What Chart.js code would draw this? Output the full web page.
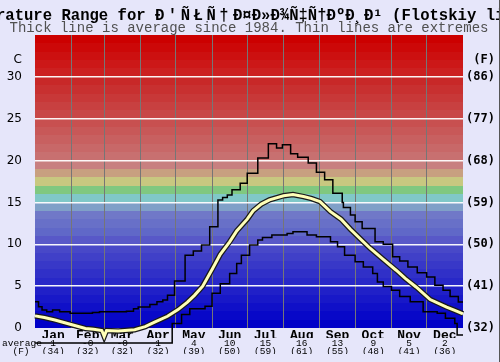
<!DOCTYPE html>
<html>
<head>
<meta charset="utf-8">
<script src="https://cdn.jsdelivr.net/npm/chart.js@4.4.1/dist/chart.umd.min.js"></script>
<style>
  html, body { margin: 0; padding: 0; background: #e6e6fa; }
</style>
</head>
<body>
<canvas id="chart" width="500" height="362"></canvas>
<script>
// day of year (0..365) and temperature in C
const avgDay = [0, 8, 17, 30, 43, 50, 57, 59, 61, 71, 85, 94, 102, 113, 122, 130, 136, 143, 151, 158, 166, 172, 181, 186, 193, 200, 212, 220, 229, 236, 243, 252, 261, 269, 280, 286, 297, 308, 316, 325, 337, 351, 358, 365];
const avgTemp = [1.45, 1.25, 0.96, 0.44, -0.05, -0.15, -0.3, -1.0, -0.3, -0.35, -0.2, 0.16, 0.7, 1.4, 2.2, 3.1, 3.9, 5.0, 7.0, 8.8, 10.3, 11.6, 13.0, 14.0, 14.8, 15.3, 15.8, 15.95, 15.7, 15.45, 15.1, 13.9, 13.0, 11.8, 10.3, 9.5, 8.2, 6.9, 5.9, 4.9, 3.4, 2.5, 2.1, 1.7];

const maxDay = [0, 3, 6, 10, 15, 21, 30, 49, 55, 78, 84, 88, 98, 104, 109, 113, 119, 128, 135, 142, 149, 156, 160, 164, 168, 175, 181, 190, 199, 206, 211, 218, 224, 233, 240, 247, 254, 262, 263, 269, 273, 279, 290, 297, 305, 311, 318, 326, 334, 341, 348, 354, 361, 365];
const maxTemp = [3.15, 2.55, 2.15, 1.95, 2.15, 1.95, 1.75, 1.85, 1.95, 2.0, 2.3, 2.5, 2.8, 3.15, 3.35, 3.9, 5.6, 8.7, 9.2, 9.9, 12.1, 15.3, 15.6, 15.9, 16.5, 17.3, 18.5, 20.3, 22.0, 21.5, 21.9, 20.8, 20.4, 19.7, 18.6, 17.7, 16.1, 15.0, 14.4, 13.5, 12.7, 11.9, 10.3, 10.0, 8.5, 8.0, 7.3, 6.6, 6.1, 5.1, 4.5, 3.75, 3.1, 3.1];

const minDay = [0, 115, 117, 125, 132, 145, 151, 158, 166, 172, 176, 183, 190, 194, 202, 215, 220, 232, 240, 252, 258, 264, 273, 280, 288, 292, 297, 304, 311, 320, 331, 343, 350, 358, 360, 365];
const minTemp = [-1.8, -1.8, 0.55, 1.6, 2.3, 2.6, 4.15, 5.3, 6.5, 7.7, 8.7, 9.9, 10.5, 10.8, 11.1, 11.3, 11.5, 11.1, 10.9, 10.3, 9.7, 8.7, 7.9, 7.3, 6.5, 5.5, 4.95, 4.5, 3.75, 3.15, 1.95, 1.75, 1.15, 0.55, -0.85, -0.85];

const months = ['Jan', 'Feb', 'Mar', 'Apr', 'May', 'Jun', 'Jul', 'Aug', 'Sep', 'Oct', 'Nov', 'Dec'];
const monthStart = [0, 31, 59, 90, 120, 151, 181, 212, 243, 273, 304, 334, 365];
const monthAvgC = ['1', '-0', '-0', '1', '4', '10', '15', '16', '13', '9', '5', '2'];
const monthAvgF = ['(34)', '(32)', '(32)', '(32)', '(39)', '(50)', '(59)', '(61)', '(55)', '(48)', '(41)', '(36)'];
const yTicks = [0, 5, 10, 15, 20, 25, 30, 32];

// title comes in three runs, the site name is drawn a little wider
const titleHead = 'Water Temperature Range for ';
const titleName = 'Ð\'ÑŁÑ†';
const titleTail = 'Ð¤Ð»Ð¾Ñ‡Ñ†ÐºÐ¸Ð¹ (Flotskiy liman)';
const subtitleText = 'Thick line is average since 1984. Thin lines are extremes';

// one colour per degree band, 0-1 C upwards
const bandColors = [
  '#0000c8', '#0808c8', '#1010c8', '#1818c8', '#2020c8',
  '#2828c8', '#3030c8', '#3838c8', '#4040c8', '#4848c8',
  '#5858c8', '#6068c8', '#6870c8', '#7078c8', '#80a0c8',
  '#80c8c8', '#80c880', '#c8c880', '#c8a080', '#c88080',
  '#c87070', '#c86868', '#c86060', '#c85858', '#c85050',
  '#c84848', '#c84040', '#c83838', '#c83030', '#c82828',
  '#cc2020', '#cc1818', '#cc1010', '#cc0808', '#cc0000'
];

const monthMid = months.map((m, i) => (monthStart[i] + monthStart[i + 1]) / 2);
const pts = (xs, ys) => xs.map((x, i) => ({ x, y: ys[i] }));
const clear = 'rgba(0,0,0,0)';
const mono = 'Liberation Mono';

const backdrop = {
  id: 'backdrop',
  beforeDraw(chart) {
    const { ctx, chartArea: a } = chart;
    const y = chart.scales.y;
    ctx.save();
    ctx.fillStyle = '#e6e6fa';
    ctx.fillRect(0, 0, chart.width, chart.height);
    bandColors.forEach((c, i) => {
      const top = Math.round(y.getPixelForValue(i + 1));
      const bottom = Math.round(y.getPixelForValue(i));
      ctx.fillStyle = c;
      ctx.fillRect(a.left, top, a.right - a.left, bottom - top);
    });
    ctx.restore();
  },
  afterDraw(chart) {
    const { ctx } = chart;
    ctx.save();
    ctx.fillStyle = '#000';
    ctx.textBaseline = 'alphabetic';
    ctx.font = 'bold 15.6px "' + mono + '"';
    ctx.textAlign = 'left';
    ctx.fillText(titleHead, -107, 20);
    ctx.letterSpacing = '3.5px';
    ctx.fillText(titleName, 155, 20);
    ctx.letterSpacing = '0px';
    ctx.fillText(titleTail, 233, 20);
    ctx.font = '14px "' + mono + '"';
    ctx.fillStyle = '#505050';
    ctx.textAlign = 'center';
    ctx.fillText(subtitleText, 249, 32);
    ctx.fillStyle = '#000';
    ctx.font = '9.5px "' + mono + '"';
    ctx.textAlign = 'left';
    ctx.fillText('average', 2, 345.5);
    ctx.textAlign = 'center';
    ctx.fillText('(F)', 21, 353.5);
    ctx.fillStyle = '#555';
    ctx.fillRect(499, 0, 1, chart.height);
    ctx.restore();
  }
};

const labelAxis = (weight, h, labels, font) => ({
  type: 'linear', min: 0, max: 365, position: 'bottom', weight,
  afterBuildTicks: (s) => { s.ticks = monthMid.map((v) => ({ value: v })); },
  afterFit: (s) => { s.height = h; },
  grid: { display: false, drawTicks: false },
  border: { display: false },
  ticks: {
    autoSkip: false, maxRotation: 0, padding: 0, color: '#000', font,
    callback: (v, i) => labels[i]
  }
});

new Chart(document.getElementById('chart'), {
  type: 'line',
  data: {
    datasets: [
      { data: pts(avgDay, avgTemp), borderColor: '#ffffb8', borderWidth: 3, clip: false },
      { data: pts(avgDay, avgTemp), borderColor: '#1a1a1a', borderWidth: 5.5, clip: false },
      { data: pts(maxDay, maxTemp), borderColor: '#000', borderWidth: 1.5, stepped: 'before', clip: false },
      { data: pts(minDay, minTemp), borderColor: '#000', borderWidth: 1.5, stepped: 'before', clip: false }
    ]
  },
  options: {
    responsive: false,
    animation: false,
    layout: { padding: { top: 35, bottom: 8, left: 0, right: 0 } },
    elements: { point: { radius: 0 }, line: { tension: 0 } },
    plugins: { legend: { display: false }, tooltip: { enabled: false } },
    scales: {
      x: {
        type: 'linear', min: 0, max: 365, position: 'bottom', weight: 0,
        afterBuildTicks: (s) => { s.ticks = monthStart.map((v) => ({ value: v })); },
        afterFit: (s) => { s.height = 0; },
        grid: {
          drawTicks: false, lineWidth: 1,
          color: (c) => (c.tick && (c.tick.value === 0 || c.tick.value === 365)) ? clear : '#767676'
        },
        border: { display: false },
        ticks: { display: false }
      },
      xm: labelAxis(1, 10, months, { family: mono, size: 13, weight: 'bold' }),
      xc: labelAxis(2, 8, monthAvgC, { family: mono, size: 9.5 }),
      xf: labelAxis(3, 8, monthAvgF, { family: mono, size: 9.5 }),
      y: {
        type: 'linear', min: 0, max: 35, position: 'left',
        afterBuildTicks: (s) => { s.ticks = yTicks.map((v) => ({ value: v })); },
        afterFit: (s) => { s.width = 35; },
        grid: {
          drawTicks: false, lineWidth: 1.5,
          color: (c) => (c.tick && (c.tick.value === 0 || c.tick.value === 32)) ? clear : 'rgba(255,255,255,0.95)'
        },
        border: { display: false },
        ticks: {
          padding: 13, color: '#000', font: { family: 'DejaVu Sans', size: 12 },
          callback: (v) => v === 32 ? 'C' : String(v)
        }
      },
      y2: {
        type: 'linear', min: 0, max: 35, position: 'right',
        afterBuildTicks: (s) => { s.ticks = yTicks.map((v) => ({ value: v })); },
        afterFit: (s) => { s.width = 37; },
        grid: { display: false, drawTicks: false },
        border: { display: false },
        ticks: {
          padding: 3, color: '#000', font: { family: 'DejaVu Sans Mono', size: 12, weight: 'bold' },
          callback: (v) => v === 32 ? ' (F)' : '(' + Math.round(v * 9 / 5 + 32) + ')'
        }
      }
    }
  },
  plugins: [backdrop]
});
</script>
</body>
</html>
